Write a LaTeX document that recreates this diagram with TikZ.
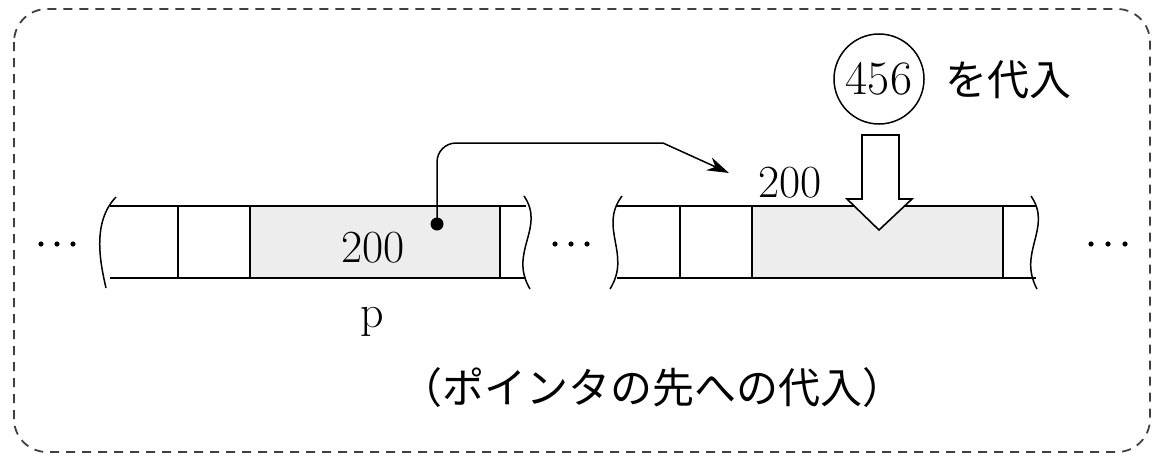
\documentclass[tikz,border=0pt]{standalone}
\usepackage{fontspec}
\newfontfamily\jp{Noto Sans CJK JP}
\usetikzlibrary{arrows.meta}
\begin{document}
\begin{tikzpicture}[x=1pt,y=-1pt,line width=1.5pt,
  num/.style={inner sep=0pt,font=\fontsize{46}{50}\selectfont},
  jtxt/.style={inner sep=0pt,font=\jp\fontsize{42}{48}\selectfont},
  shade/.style={fill=gray!14,draw=none},
  tape/.style={line width=1.5pt},
  dotsty/.style={circle,fill=black,inner sep=0pt,minimum size=6pt},
  frame/.style={draw=black!75,line width=1.8pt,dash pattern=on 9pt off 7pt,rounded corners=33pt}]
\useasboundingbox (0,0) rectangle (1155,455);
\draw[frame] (14,9) rectangle (1150,452);
% left tape
\fill[shade] (250,206) rectangle (500,278);
\draw[tape] (110,206) -- (526,206) (110,278) -- (526,278);
\draw[tape] (178,206) -- (178,278) (250,206) -- (250,278) (500,206) -- (500,278);
\draw[tape] (116,197) .. controls (92,222) and (100,262) .. (106,288);
\draw[tape] (524,196) .. controls (546,228) and (508,252) .. (530,289);
% right tape
\fill[shade] (752,206) rectangle (1003,278);
\draw[tape] (617,206) -- (1036,206) (617,278) -- (1036,278);
\draw[tape] (622,196) .. controls (598,228) and (632,254) .. (610,289);
\draw[tape] (1031,196) .. controls (1053,228) and (1017,252) .. (1037,289);
\draw[tape] (680,206) -- (680,278) (752,206) -- (752,278) (1003,206) -- (1003,278);
% ellipsis dots
\foreach \x in {41,57,73,555,571,587,1091,1108,1125}
  \fill (\x,244) circle (2.6pt);
% texts
\node[num] (v1) at (373,248) {200};
\node[num] (v2) at (790,183) {200};
\node[num] (pname) at (372,322) {p};
\node[draw,circle,line width=1.5pt,minimum size=90pt,inner sep=0pt,font=\fontsize{48}{50}\selectfont] (c456) at (879,79) {456};
\node[jtxt,anchor=west] (assign) at (945,80) {を代入};
\node[jtxt] (caption) at (652,388) {（ポインタの先への代入）};
% pointer
\node[dotsty,minimum size=13pt] (pdot) at (437,224) {};
\coordinate (tgt) at (729,173);
\draw[line width=1.5pt,-{Stealth[length=22pt,width=14pt]}] (pdot.center) -- (437,162) to[out=90,in=180] (456,143) -- (663,143) -- (tgt);
% hollow arrow
\draw[fill=white,line width=1.6pt] (862,135) -- (899,135) -- (899,199) -- (912,199) -- (879,230) -- (847,199) -- (862,199) -- cycle;
\end{tikzpicture}
\end{document}
